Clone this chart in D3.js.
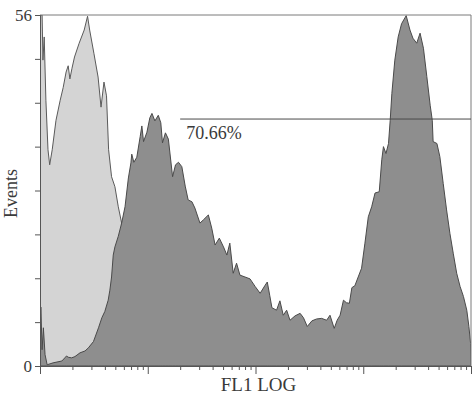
<!DOCTYPE html>
<html>
<head>
<meta charset="utf-8">
<script src="https://cdn.jsdelivr.net/npm/d3@7"></script>
<style>
body { margin: 0; background: #fff; }
svg text { font-family: "Liberation Serif", "DejaVu Serif", serif; fill: #3a3a3a; }
</style>
</head>
<body>
<svg id="chart"></svg>
<script>
// channel (0-1024 over 4 log decades) and events
var controlChannels = [0, 5, 7, 10, 14, 19, 23, 29, 38, 48, 55, 62, 67, 71, 76, 82, 93, 105, 113, 118,
  128, 138, 145, 152, 158, 163, 170, 178, 186, 194, 202, 209, 223, 242, 261];
var controlCounts = [56, 56, 48.8, 52.5, 42.4, 34.5, 32.1, 34.5, 39.2, 42.4, 44.4, 46.9, 47.9, 45.8, 47.5, 49.3, 51.5, 53.6, 55.8, 53.6,
  49.9, 46.1, 41.3, 45.3, 43.1, 34.5, 30.2, 28.6, 25.4, 22.8, 19.3, 12.1, 4.9, 1.0, 0];

var sampleChannels = [0, 2, 5, 8, 12, 17, 31, 52, 59, 63, 67, 75, 83, 95, 107, 115, 127, 139, 147, 154,
  162, 166, 170, 174, 178, 186, 194, 202, 210, 216, 218, 223, 230, 238, 242, 246, 254, 261, 266, 273,
  281, 287, 291, 298, 305, 315, 322, 329, 337, 345, 352, 361, 368, 380, 388, 400, 408, 416, 426, 436,
  444, 451, 459, 467, 475, 487, 499, 511, 523, 535, 540, 546, 551, 562, 570, 578, 586, 594, 606, 618,
  626, 635, 646, 657, 669, 681, 689, 699, 706, 713, 721, 728, 735, 741, 748, 756, 764, 772, 780, 788,
  796, 806, 812, 816, 822, 828, 832, 836, 843, 851, 859, 870, 879, 886, 895, 903, 911, 919, 927, 932,
  934, 943, 950, 958, 966, 974, 982, 990, 998, 1006, 1014, 1019, 1023, 1024];
var sampleCounts = [0, 9.4, 2.6, 6.1, 1.8, 0.2, 0.5, 0.8, 1.3, 1.6, 1.4, 1.3, 1.5, 2.1, 2.4, 2.9, 3.9, 6.1, 7.7, 8.7,
  10.5, 12.1, 14.2, 17.7, 19.0, 20.7, 22.8, 25.4, 30.0, 32.4, 33.8, 32.5, 33.3, 36.6, 38.3, 35.8, 37.3, 39.6, 40.3, 39.1,
  40.0, 38.8, 35.6, 37.2, 36.2, 30.2, 32.1, 32.5, 31.8, 28.7, 26.5, 26.2, 25.2, 22.8, 23.3, 24.1, 22.0, 19.3, 20.4, 19.0,
  17.7, 19.6, 14.8, 16.4, 14.5, 14.2, 13.9, 12.7, 11.6, 12.9, 13.4, 11.2, 9.3, 8.9, 10.4, 8.1, 8.9, 7.3, 8.0, 8.4,
  7.7, 6.3, 7.2, 7.5, 7.6, 7.3, 8.1, 6.0, 7.3, 8.1, 10.5, 10.1, 10.0, 12.5, 12.8, 14.2, 15.6, 19.6, 23.8, 25.4,
  27.6, 27.8, 32.9, 35.0, 33.9, 35.5, 39.2, 43.5, 48.8, 52.5, 54.6, 55.9, 53.6, 52.3, 51.5, 53.1, 50.7, 46.2, 41.6, 39.2,
  35.8, 35.5, 33.4, 29.1, 24.9, 21.1, 17.9, 14.8, 12.7, 11.1, 8.9, 6.3, 3.6, 0];

var yTicks = [0, 7, 14, 21, 28, 35, 42, 49, 56];
var yLabelled = [0, 56];
var markerChannels = [333, 1024];
var markerCount = 39.4;
var markerLabel = "70.66%";

var W = 473, H = 396;
var mLeft = 40, mRight = 471, mTop = 15, mBottom = 366;

var svg = d3.select("#chart").attr("width", W).attr("height", H);

var x = d3.scaleLinear().domain([0, 1024]).range([mLeft, mRight]);
var xLog = d3.scaleLog().domain([1, 10000]).range([mLeft, mRight]);
var y = d3.scaleLinear().domain([0, 56]).range([mBottom, mTop]);

svg.append("clipPath").attr("id", "plot")
  .append("rect").attr("x", mLeft).attr("y", mTop).attr("width", mRight - mLeft).attr("height", mBottom - mTop);

function series(ch, counts) {
  return ch.map(function (c, i) { return { ch: c, n: counts[i] }; });
}

var area = d3.area()
  .x(function (d) { return x(d.ch); })
  .y0(y(0))
  .y1(function (d) { return y(d.n); });

var g = svg.append("g").attr("clip-path", "url(#plot)");

g.append("path")
  .datum(series(controlChannels, controlCounts))
  .attr("d", area)
  .attr("fill", "#d4d4d4")
  .attr("stroke", "#5a5a5a")
  .attr("stroke-width", 1);

g.append("path")
  .datum(series(sampleChannels, sampleCounts))
  .attr("d", area)
  .attr("fill", "#8e8e8e")
  .attr("stroke", "#4a4a4a")
  .attr("stroke-width", 1);

// frame top + right
svg.append("path")
  .attr("d", "M" + mLeft + "," + mTop + "H" + mRight + "V" + mBottom)
  .attr("fill", "none")
  .attr("stroke", "#7a7a7a");

// marker
svg.append("line")
  .attr("x1", x(markerChannels[0])).attr("x2", x(markerChannels[1]))
  .attr("y1", y(markerCount)).attr("y2", y(markerCount))
  .attr("stroke", "#4a4a4a");
svg.append("text")
  .attr("x", x(markerChannels[0]) + 6)
  .attr("y", y(markerCount) + 20)
  .attr("font-size", 18)
  .text(markerLabel);

// left axis
var yAxis = d3.axisLeft(y)
  .tickValues(yTicks)
  .tickSize(5)
  .tickPadding(3)
  .tickFormat(function (d) { return yLabelled.indexOf(d) >= 0 ? d : ""; });
var ya = svg.append("g").attr("transform", "translate(" + mLeft + ",0)").call(yAxis);
ya.select(".domain").attr("stroke", "#555");
ya.selectAll(".tick line").attr("stroke", "#555");
ya.selectAll("text").attr("font-size", 17).attr("font-family", null).attr("fill", "#3a3a3a");

// bottom axis, log ticks
var xTicks = xLog.ticks();
var xAxis = d3.axisBottom(xLog)
  .tickValues(xTicks)
  .tickSizeOuter(0)
  .tickFormat("");
var xa = svg.append("g").attr("transform", "translate(0," + mBottom + ")").call(xAxis);
xa.select(".domain").attr("stroke", "#555");
xa.selectAll(".tick line")
  .attr("stroke", "#555")
  .attr("y2", function (d) {
    var e = Math.log10(d);
    return Math.abs(e - Math.round(e)) < 1e-6 ? 8 : 4;
  });

// axis titles
svg.append("text")
  .attr("x", (mLeft + mRight) / 2 + 3)
  .attr("y", 391)
  .attr("text-anchor", "middle")
  .attr("font-size", 19)
  .text("FL1 LOG");

svg.append("text")
  .attr("transform", "translate(17," + ((mTop + mBottom) / 2 + 3) + ") rotate(-90)")
  .attr("text-anchor", "middle")
  .attr("font-size", 18)
  .text("Events");
</script>
</body>
</html>
